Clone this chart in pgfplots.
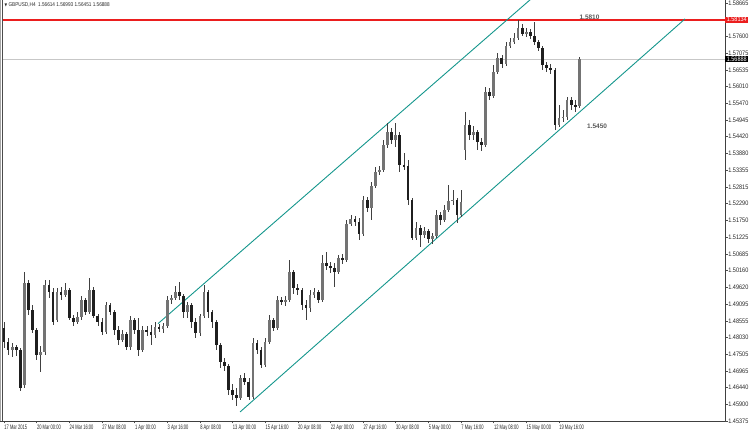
\documentclass[border=0pt]{standalone}
\usepackage{fontspec}
\setmainfont{Liberation Sans}
\newfontfamily\dejavu{DejaVu Sans}
\usepackage{pgfplots}
\usepackage{pgfplotstable}
\pgfplotsset{compat=1.18}
\definecolor{chan}{RGB}{20,150,140}
\definecolor{mtred}{RGB}{235,30,30}

\pgfplotstableread{
x o h l c
0 1.4833 1.4852 1.4770 1.4789
2 1.4789 1.4801 1.4747 1.4763
4 1.4763 1.4785 1.4741 1.4773
6 1.4773 1.4779 1.4744 1.4763
8 1.4763 1.4770 1.4633 1.4642
10 1.4652 1.5011 1.4642 1.4976
12 1.4976 1.4986 1.4874 1.4890
14 1.4890 1.4906 1.4817 1.4827
16 1.4827 1.4833 1.4731 1.4747
18 1.4747 1.4776 1.4693 1.4757
20 1.4757 1.4986 1.4747 1.4970
22 1.4970 1.4986 1.4928 1.4948
24 1.4948 1.4960 1.4843 1.4852
26 1.4859 1.4960 1.4852 1.4948
28 1.4948 1.4963 1.4922 1.4938
30 1.4938 1.4976 1.4932 1.4954
32 1.4954 1.4960 1.4859 1.4865
34 1.4865 1.4874 1.4839 1.4852
36 1.4852 1.4884 1.4846 1.4868
38 1.4868 1.4935 1.4859 1.4922
40 1.4922 1.4928 1.4874 1.4884
42 1.4884 1.4992 1.4878 1.4954
44 1.4954 1.4963 1.4865 1.4871
46 1.4871 1.4878 1.4839 1.4852
48 1.4852 1.4865 1.4811 1.4820
50 1.4820 1.4916 1.4814 1.4906
52 1.4906 1.4913 1.4874 1.4884
54 1.4884 1.4890 1.4811 1.4827
56 1.4827 1.4839 1.4779 1.4795
58 1.4795 1.4827 1.4789 1.4814
60 1.4814 1.4820 1.4763 1.4773
62 1.4773 1.4871 1.4763 1.4859
64 1.4859 1.4865 1.4814 1.4827
66 1.4827 1.4865 1.4744 1.4763
68 1.4763 1.4839 1.4757 1.4827
70 1.4827 1.4839 1.4808 1.4820
72 1.4820 1.4843 1.4779 1.4811
74 1.4811 1.4852 1.4801 1.4836
76 1.4836 1.4846 1.4820 1.4830
78 1.4830 1.4849 1.4817 1.4839
80 1.4839 1.4935 1.4833 1.4922
82 1.4922 1.4938 1.4909 1.4928
84 1.4928 1.4967 1.4922 1.4948
86 1.4948 1.4979 1.4922 1.4935
88 1.4935 1.4941 1.4865 1.4884
90 1.4884 1.4916 1.4865 1.4906
92 1.4906 1.4913 1.4833 1.4852
94 1.4852 1.4865 1.4801 1.4817
96 1.4817 1.4878 1.4808 1.4871
98 1.4871 1.4970 1.4865 1.4948
100 1.4948 1.4954 1.4865 1.4884
102 1.4884 1.4890 1.4833 1.4852
104 1.4852 1.4859 1.4763 1.4779
106 1.4779 1.4785 1.4706 1.4725
108 1.4725 1.4738 1.4696 1.4712
110 1.4712 1.4719 1.4620 1.4636
112 1.4636 1.4655 1.4604 1.4620
114 1.4620 1.4642 1.4585 1.4610
116 1.4610 1.4684 1.4604 1.4674
118 1.4674 1.4690 1.4652 1.4661
120 1.4661 1.4674 1.4604 1.4614
122 1.4614 1.4801 1.4607 1.4785
124 1.4785 1.4795 1.4750 1.4763
126 1.4763 1.4773 1.4706 1.4715
128 1.4715 1.4801 1.4709 1.4789
130 1.4789 1.4874 1.4782 1.4859
132 1.4859 1.4865 1.4824 1.4833
134 1.4833 1.4935 1.4827 1.4922
136 1.4922 1.4932 1.4906 1.4916
138 1.4916 1.4935 1.4903 1.4922
140 1.4922 1.5049 1.4916 1.5011
142 1.5011 1.5018 1.4941 1.4960
144 1.4960 1.4973 1.4938 1.4954
146 1.4954 1.4960 1.4890 1.4906
148 1.4906 1.4922 1.4859 1.4897
150 1.4897 1.4954 1.4884 1.4938
152 1.4938 1.4960 1.4928 1.4948
154 1.4948 1.4954 1.4913 1.4922
156 1.4922 1.5065 1.4916 1.5040
158 1.5040 1.5075 1.5018 1.5030
160 1.5030 1.5043 1.5008 1.5024
162 1.5024 1.5040 1.4963 1.5011
164 1.5011 1.5065 1.5005 1.5056
166 1.5056 1.5068 1.5037 1.5049
168 1.5049 1.5177 1.5043 1.5164
170 1.5164 1.5192 1.5157 1.5180
172 1.5180 1.5189 1.5157 1.5170
174 1.5170 1.5183 1.5113 1.5132
176 1.5132 1.5253 1.5126 1.5240
178 1.5240 1.5250 1.5202 1.5215
180 1.5215 1.5297 1.5177 1.5285
182 1.5285 1.5345 1.5278 1.5329
184 1.5329 1.5348 1.5320 1.5336
186 1.5336 1.5431 1.5329 1.5415
188 1.5415 1.5485 1.5405 1.5456
190 1.5456 1.5469 1.5418 1.5431
192 1.5431 1.5485 1.5409 1.5447
194 1.5447 1.5456 1.5329 1.5351
196 1.5351 1.5390 1.5336 1.5348
198 1.5348 1.5367 1.5224 1.5240
200 1.5240 1.5246 1.5113 1.5119
202 1.5119 1.5170 1.5113 1.5151
204 1.5151 1.5161 1.5091 1.5129
206 1.5129 1.5154 1.5119 1.5142
208 1.5142 1.5148 1.5103 1.5116
210 1.5116 1.5135 1.5100 1.5126
212 1.5126 1.5208 1.5119 1.5192
214 1.5192 1.5202 1.5161 1.5177
216 1.5177 1.5224 1.5170 1.5208
218 1.5208 1.5288 1.5202 1.5237
220 1.5237 1.5272 1.5224 1.5240
222 1.5240 1.5246 1.5167 1.5192
224 1.5192 1.5272 1.5186 1.5234
226 1.5399 1.5520 1.5367 1.5479
228 1.5479 1.5495 1.5431 1.5447
230 1.5447 1.5475 1.5431 1.5456
232 1.5456 1.5463 1.5399 1.5425
234 1.5425 1.5437 1.5396 1.5415
236 1.5415 1.5599 1.5409 1.5584
238 1.5584 1.5596 1.5558 1.5571
240 1.5571 1.5669 1.5565 1.5647
242 1.5647 1.5708 1.5641 1.5692
244 1.5692 1.5701 1.5660 1.5673
246 1.5673 1.5743 1.5666 1.5730
248 1.5730 1.5755 1.5723 1.5743
250 1.5743 1.5771 1.5736 1.5755
252 1.5755 1.5813 1.5749 1.5787
254 1.5787 1.5800 1.5762 1.5768
256 1.5768 1.5787 1.5758 1.5774
258 1.5774 1.5784 1.5752 1.5762
260 1.5762 1.5806 1.5733 1.5743
262 1.5743 1.5749 1.5714 1.5723
264 1.5723 1.5730 1.5654 1.5669
266 1.5669 1.5679 1.5647 1.5660
268 1.5660 1.5673 1.5641 1.5654
270 1.5654 1.5660 1.5463 1.5479
272 1.5479 1.5542 1.5472 1.5501
274 1.5501 1.5526 1.5488 1.5504
276 1.5504 1.5568 1.5495 1.5558
278 1.5558 1.5568 1.5526 1.5542
280 1.5542 1.5558 1.5520 1.5539
282 1.5539 1.5695 1.5533 1.5689
}\ohlc

\begin{document}
\begin{tikzpicture}
\useasboundingbox (-2pt,-9pt) rectangle (748pt,421pt);
\begin{axis}[
  at={(0pt,0pt)}, anchor=south west,
  width=723pt, height=421pt, scale only axis,
  xmin=-0.98, xmax=353.4, ymin=1.45373, ymax=1.58761,
  clip mode=individual,
  axis line style={draw=none},
  xtick={0,16,32,48,64,80,96,112,128,144,160,176,192,208,224,240,256,272},
  xticklabels={17 Mar 2015,20 Mar 00:00,24 Mar 16:00,27 Mar 08:00,1 Apr 00:00,3 Apr 16:00,8 Apr 08:00,13 Apr 00:00,15 Apr 16:00,20 Apr 08:00,22 Apr 00:00,27 Apr 16:00,30 Apr 08:00,5 May 00:00,7 May 16:00,12 May 08:00,15 May 00:00,19 May 16:00},
  ytick={1.58665,1.57600,1.57075,1.56535,1.56010,1.55470,1.54945,1.54420,1.53880,1.53355,1.52815,1.52290,1.51750,1.51225,1.50685,1.50160,1.49620,1.49095,1.48555,1.48030,1.47505,1.46965,1.46440,1.45900,1.45375},
  yticklabels={1.58665,1.57600,1.57075,1.56535,1.56010,1.55470,1.54945,1.54420,1.53880,1.53355,1.52815,1.52290,1.51750,1.51225,1.50685,1.50160,1.49620,1.49095,1.48555,1.48030,1.47505,1.46965,1.46440,1.45900,1.45375},
  xtick pos=bottom, ytick pos=right, yticklabel pos=right,
  tick align=outside, major tick length=2.5pt,
  tick style={black!70, line width=0.5pt},
  xticklabel style={anchor=north west, font=\fontsize{6.5}{7}\selectfont, xscale=0.62, inner xsep=0.5pt, inner ysep=0.8pt, text=black!85},
  yticklabel style={anchor=west, font=\fontsize{6.5}{7}\selectfont, xscale=0.85, inner xsep=0.8pt, text=black!85},
]
% reference line at last price
\addplot[draw=black!22, line width=0.5pt, mark=none] coordinates {(-0.98,1.56888) (353.4,1.56888)};
% resistance line (red)
\addplot[draw=mtred, line width=1.6pt, mark=none] coordinates {(-0.98,1.58134) (353.4,1.58134)};
% channel
\addplot[draw=chan, line width=0.9pt, mark=none] coordinates {(75.5,1.4847) (262.7,1.5904)};
\addplot[draw=chan, line width=0.9pt, mark=none] coordinates {(115.7,1.4566) (333.8,1.5816)};
% wicks
\addplot[draw=none, mark=none, error bars/.cd, y dir=both, y explicit, error mark=none,
  error bar style={line width=0.6pt, draw=black!75, solid}]
  table[x=x, y expr={(\thisrow{h}+\thisrow{l})/2}, y error expr={(\thisrow{h}-\thisrow{l})/2}] {\ohlc};
% up bodies
\addplot[draw=none, mark=none, error bars/.cd, y dir=both, y explicit, error mark=none,
  error bar style={line width=2.7pt, draw=black!55, solid}]
  table[x=x, y expr={ifthenelse(\thisrow{o}<\thisrow{c},(\thisrow{o}+\thisrow{c})/2,nan)}, y error expr={abs(\thisrow{c}-\thisrow{o})/2}] {\ohlc};
% down bodies
\addplot[draw=none, mark=none, error bars/.cd, y dir=both, y explicit, error mark=none,
  error bar style={line width=2.7pt, draw=black!88, solid}]
  table[x=x, y expr={ifthenelse(\thisrow{c}<\thisrow{o},(\thisrow{o}+\thisrow{c})/2,nan)}, y error expr={abs(\thisrow{c}-\thisrow{o})/2}] {\ohlc};
% frame
\draw[black!75, line width=0.6pt] (rel axis cs:1,0) -- (rel axis cs:1,1);
\draw[black!75, line width=0.6pt] ([xshift=-2pt]rel axis cs:0,0) -- (rel axis cs:1,0);
\draw[black!70, line width=0.6pt] ([xshift=0.4pt]rel axis cs:0,0) -- ([xshift=0.4pt]rel axis cs:0,1);
\draw[black!35, line width=0.8pt] ([xshift=-1.3pt]rel axis cs:0,0) -- ([xshift=-1.3pt]rel axis cs:0,1);
% tags
\node[fill=mtred, text=white, anchor=west, inner xsep=1.5pt, inner ysep=0.8pt, font=\fontsize{6.5}{7}\selectfont, xscale=0.85] at ([xshift=0.3pt]axis cs:353.4,1.58134) {1.58134};
\node[fill=black, text=white, anchor=west, inner xsep=1.5pt, inner ysep=0.8pt, font=\fontsize{6.5}{7}\selectfont, xscale=0.85] at ([xshift=0.3pt]axis cs:353.4,1.56888) {1.56888};
% annotations
\node[font=\fontsize{6.5}{7}\selectfont\bfseries, text=black!65] at (axis cs:287,1.5822) {1.5810};
\node[font=\fontsize{6.5}{7}\selectfont\bfseries, text=black!65] at (axis cs:290.7,1.5475) {1.5450};
% title
\node[anchor=north west, inner sep=0pt, font=\fontsize{5.5}{6}\selectfont, xscale=0.85, text=black!85] at ([xshift=2.5pt, yshift=-2pt]rel axis cs:0,1) {{\dejavu\fontsize{4}{5}\selectfont ▼}\ GBPUSD,H4\ \ 1.56614 1.56993 1.56451 1.56888};
\end{axis}
\end{tikzpicture}
\end{document}
